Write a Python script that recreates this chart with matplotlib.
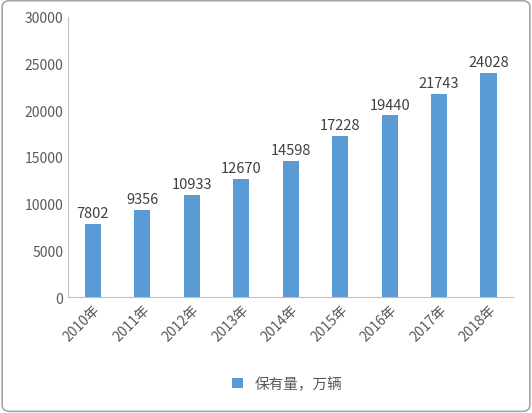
import matplotlib.pyplot as plt
from matplotlib.patches import FancyBboxPatch

plt.rcParams['font.family'] = ['Noto Sans CJK SC', 'DejaVu Sans']

years = ["2010年", "2011年", "2012年", "2013年", "2014年", "2015年", "2016年", "2017年", "2018年"]
stock = [7802, 9356, 10933, 12670, 14598, 17228, 19440, 21743, 24028]

fig = plt.figure(figsize=(5.32, 4.14), dpi=100)
# rounded grey frame
fig.patches.append(FancyBboxPatch((0.004, 0.004), 0.992, 0.992, boxstyle="round,pad=0,rounding_size=0.015",
                                  transform=fig.transFigure, fill=False, edgecolor="#a6a6a6", linewidth=1.2))
ax = fig.add_axes([0.128, 0.28, 0.837, 0.677])

x = range(len(years))
bars = ax.bar(x, stock, width=0.33, color="#5b9bd5", label="保有量，万辆")
for i, v in zip(x, stock):
    ax.text(i, v + 400, str(v), ha="center", va="bottom", fontsize=10.5, color="#404040")

ax.set_ylim(0, 30000)
ax.set_yticks(range(0, 30001, 5000))
ax.set_xlim(-0.5, len(years) - 0.5)
ax.set_xticks(list(x))
ax.set_xticklabels(years, rotation=45, ha="right", rotation_mode="anchor")
ax.tick_params(axis="both", labelsize=10, colors="#595959", length=0)
for s in ["top", "right"]:
    ax.spines[s].set_visible(False)
for s in ["left", "bottom"]:
    ax.spines[s].set_color("#bfbfbf")

fig.legend(handles=[bars], loc="center", bbox_to_anchor=(0.54, 0.07), frameon=False,
           fontsize=10.5, handlelength=0.7, handleheight=0.7, labelcolor="#595959")

fig.savefig("out.png", dpi=100)
